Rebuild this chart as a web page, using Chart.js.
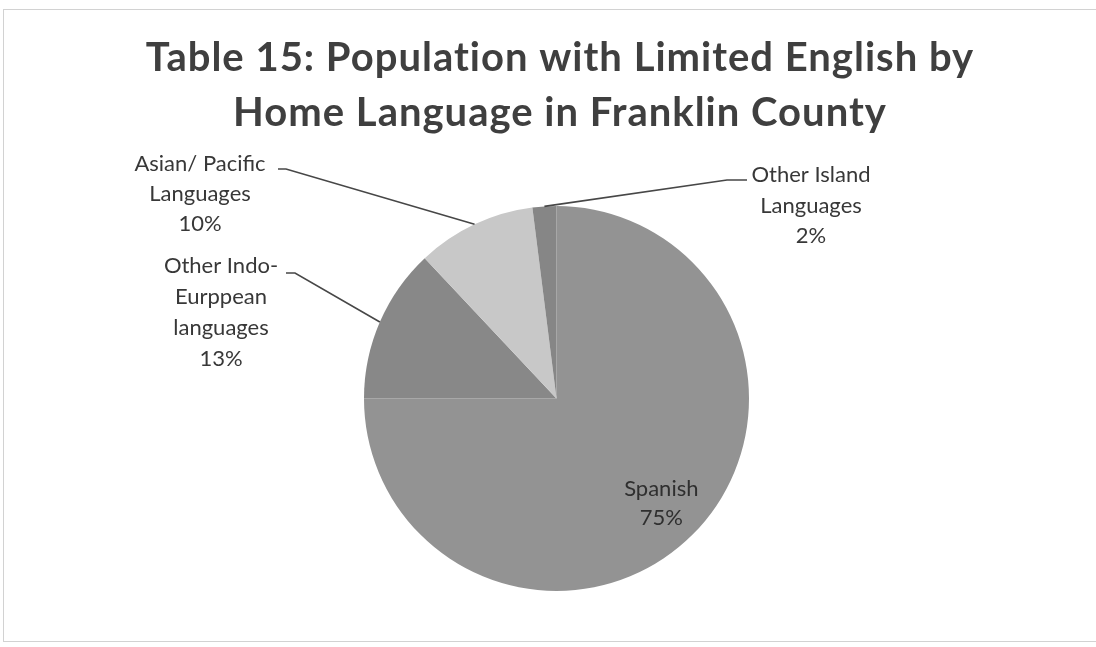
<!DOCTYPE html>
<html>
<head>
<meta charset="utf-8">
<title>Population with Limited English by Home Language</title>
<script src="https://cdn.jsdelivr.net/npm/chart.js@4.4.1/dist/chart.umd.min.js"></script>
<style>
  html, body { margin: 0; padding: 0; background: #fff; }
  .wrap { position: relative; width: 1096px; height: 647px; overflow: hidden; }
  .frame { position: absolute; left: 3px; top: 9px; width: 1110px; height: 631px; border: 1px solid #d2d2d2; }
  canvas { position: absolute; left: 0; top: 0; }
</style>
</head>
<body>
<div class="wrap">
  <div class="frame"></div>
  <canvas id="langPie" width="1096" height="647"></canvas>
</div>
<script>
// Franklin County, limited English speakers by home language
const languages = [
  "Spanish",
  "Other Indo-European languages",
  "Asian/ Pacific Languages",
  "Other Island Languages",
];
const labelLines = [
  ["Spanish"],
  ["Other Indo-", "Eurppean", "languages"],
  ["Asian/ Pacific", "Languages"],
  ["Other Island", "Languages"],
];
const shares = [75, 13, 10, 2];
const sliceColors = ["#939393", "#888888", "#c8c8c8", "#868686"];
const titleLines = [
  "Table 15: Population with Limited English by",
  "Home Language in Franklin County",
];

// title drawn by hand so the long lines are not squeezed into the pie's box
const bigTitle = {
  id: "bigTitle",
  afterDraw(chart) {
    const ctx = chart.ctx;
    ctx.save();
    ctx.fillStyle = "#3f3f3f";
    ctx.font = "bold 40px Lato";
    ctx.letterSpacing = "1px";
    ctx.textAlign = "center";
    ctx.textBaseline = "alphabetic";
    ctx.fillText(titleLines[0], 560, 71);
    ctx.fillText(titleLines[1], 560, 126);
    ctx.restore();
  },
};

// category name + percent, outside ones get a leader line back to the slice
const sliceLabels = {
  id: "sliceLabels",
  afterDatasetsDraw(chart, args, opts) {
    const ctx = chart.ctx;
    const meta = chart.getDatasetMeta(0);
    ctx.save();
    ctx.textAlign = "center";
    ctx.textBaseline = "middle";
    meta.data.forEach((arc, i) => {
      const p = arc.getProps(["x", "y", "startAngle", "endAngle", "outerRadius"], true);
      const mid = (p.startAngle + p.endAngle) / 2;
      const lines = labelLines[i].concat(shares[i] + "%");
      const spot = opts.spots[i];

      if (spot.inside) {
        const cx = p.x + Math.cos(mid) * p.outerRadius * spot.inside;
        const cy = p.y + Math.sin(mid) * p.outerRadius * spot.inside;
        ctx.font = "22px Lato";
        ctx.fillStyle = "#2f2f2f";
        const top = cy - ((lines.length - 1) * spot.gap) / 2;
        lines.forEach((t, k) => ctx.fillText(t, cx, top + k * spot.gap));
        return;
      }

      const ex = p.x + Math.cos(mid) * p.outerRadius;
      const ey = p.y + Math.sin(mid) * p.outerRadius;
      ctx.strokeStyle = "#474747";
      ctx.lineWidth = 1.6;
      ctx.beginPath();
      ctx.moveTo(spot.stub[0], spot.stub[2]);
      ctx.lineTo(spot.stub[1], spot.stub[2]);
      ctx.lineTo(ex, ey);
      ctx.stroke();

      ctx.font = "22px Lato";
      ctx.fillStyle = "#383838";
      lines.forEach((t, k) => ctx.fillText(t, spot.x, spot.y + k * spot.gap));
    });
    ctx.restore();
  },
};

new Chart(document.getElementById("langPie"), {
  type: "pie",
  data: {
    labels: languages,
    datasets: [
      {
        data: shares,
        backgroundColor: sliceColors,
        borderWidth: 0,
      },
    ],
  },
  options: {
    responsive: false,
    animation: false,
    devicePixelRatio: 1,
    layout: {
      padding: { left: 364, right: 347, top: 206, bottom: 56 },
    },
    plugins: {
      legend: { display: false },
      tooltip: { enabled: false },
      title: { display: false },
      sliceLabels: {
        spots: [
          { inside: 0.77, gap: 29 },
          { x: 221, y: 266, gap: 31, stub: [286, 295, 273] },
          { x: 200, y: 164, gap: 30, stub: [278, 286, 169] },
          { x: 811, y: 175, gap: 30.5, stub: [747, 727, 180] },
        ],
      },
    },
  },
  plugins: [sliceLabels, bigTitle],
});
</script>
</body>
</html>
